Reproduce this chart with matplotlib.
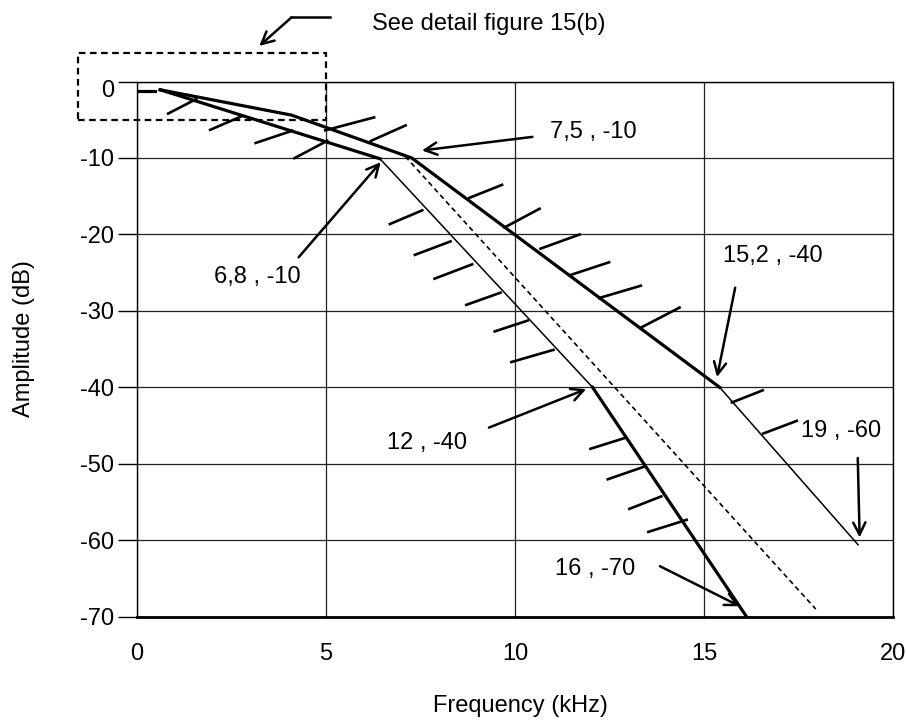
import matplotlib
matplotlib.use("Agg")
import matplotlib.pyplot as plt
import matplotlib.transforms as mtransforms
from matplotlib.patches import Rectangle
from matplotlib.lines import Line2D

plt.rcParams['font.family'] = ['Liberation Sans', 'DejaVu Sans']

# ---------------- data ----------------
x_ticks = [0, 5, 10, 15, 20]
y_ticks = [0, -10, -20, -30, -40, -50, -60, -70]

# upper mask boundary
upper_thick_x = [0.62, 4.09, 7.27, 15.41]
upper_thick_y = [-1.08, -4.39, -10.0, -40.0]
upper_thin_x = [15.41, 19.07]
upper_thin_y = [-40.0, -60.6]

# lower mask boundary
lower_thick1_x = [0.62, 6.43]
lower_thick1_y = [-1.08, -10.1]
lower_thin_x = [6.43, 12.05]
lower_thin_y = [-10.1, -40.0]
lower_thick2_x = [12.05, 16.12]
lower_thick2_y = [-40.0, -70.0]

# nominal (dashed) response
dashed_x = [7.1, 17.95]
dashed_y = [-9.8, -69.0]

# reference stub near 0 dB
stub_x = [0.0, 0.49]
stub_y = [-1.2, -1.2]

# hatch marks on the lower boundary (segment start/end)
lh_x0 = [0.80, 1.91, 3.11, 4.14, 6.66, 7.32, 7.84, 8.68, 9.43, 9.87, 11.96, 12.42, 12.99, 13.49]
lh_y0 = [-4.27, -6.39, -8.09, -10.1, -18.71, -22.73, -25.85, -29.27, -32.74, -36.74, -48.09, -52.08, -55.96, -58.96]
lh_x1 = [1.60, 2.80, 4.14, 5.07, 7.58, 8.33, 8.90, 9.65, 10.37, 11.05, 12.92, 13.47, 13.90, 14.57]
lh_y1 = [-2.23, -4.48, -6.39, -7.67, -16.78, -20.85, -23.85, -27.56, -31.21, -35.05, -46.60, -50.28, -54.20, -57.28]

# hatch marks on the upper boundary
uh_x0 = [4.95, 6.16, 8.76, 9.69, 10.64, 11.42, 12.19, 13.28, 15.70, 16.53]
uh_y0 = [-6.43, -7.83, -15.28, -19.17, -21.92, -25.38, -28.37, -32.31, -42.04, -46.10]
uh_x1 = [6.31, 7.14, 9.69, 10.68, 11.74, 12.52, 13.36, 14.38, 16.58, 17.48]
uh_y1 = [-4.65, -5.67, -13.45, -16.56, -19.95, -23.59, -26.66, -29.49, -40.33, -44.33]

# point annotations
ann_labels = ["7,5 , -10", "6,8 , -10", "15,2 , -40", "12 , -40", "19 , -60", "16 , -70"]
ann_text_xy = [(10.92, -6.56), (2.04, -25.6), (15.49, -22.86), (6.61, -47.25), (17.56, -45.66), (11.06, -63.82)]
ann_tail_xy = [(10.46, -7.24), (4.28, -22.99), (15.82, -26.96), (9.31, -45.27), (19.06, -49.24), (13.83, -63.39)]
ann_head_xy = [(7.54, -9.02), (6.45, -10.55), (15.34, -38.66), (11.88, -40.23), (19.11, -59.64), (15.94, -68.63)]

detail_label = "See detail figure 15(b)"
detail_box = (-1.54, -5.03, 6.54, 8.79)  # x, y, width, height
detail_arrow_x = [5.11, 4.09]
detail_arrow_y = [8.38, 8.38]
detail_head = (3.24, 4.65)

# ---------------- figure ----------------
FS = 17
fig = plt.figure(figsize=(9.06, 7.24), dpi=100)
ax = fig.add_axes([0.1509, 0.1482, 0.8351, 0.7392])
ax.set_xlim(0, 20)
ax.set_ylim(-70, 0)
ax.set_xticks(x_ticks)
ax.set_yticks(y_ticks)
ax.set_xticklabels([str(v) for v in x_ticks], fontsize=FS)
ax.set_yticklabels([str(v) for v in y_ticks], fontsize=FS)
ax.tick_params(axis='x', length=0, pad=19)
ax.tick_params(axis='y', length=14, width=1.0, pad=2, direction='out')
ax.grid(True, color='#222222', lw=0.9)
ax.set_axisbelow(True)
for s in ['left', 'right', 'top']:
    ax.spines[s].set_linewidth(1.0)
ax.spines['bottom'].set_linewidth(2.0)

# the "0" label sits a little below its tick in the reference
zero_lab = ax.get_yticklabels()[0]
zero_lab.set_transform(zero_lab.get_transform() +
                       mtransforms.ScaledTranslation(0, -7 / 100, fig.dpi_scale_trans))

thick = 2.3
thin = 1.1
ax.plot(upper_thick_x, upper_thick_y, color='black', lw=thick, solid_joinstyle='miter', zorder=3)
ax.plot(upper_thin_x, upper_thin_y, color='black', lw=thin, zorder=3)
ax.plot(lower_thick1_x, lower_thick1_y, color='black', lw=thick, zorder=3)
ax.plot(lower_thin_x, lower_thin_y, color='black', lw=thin, zorder=3)
ax.plot(lower_thick2_x, lower_thick2_y, color='black', lw=thick, zorder=3)
ax.plot(dashed_x, dashed_y, color='black', lw=1.2, dashes=(3, 2.2), zorder=3)
ax.plot(stub_x, stub_y, color='black', lw=thick, zorder=3)

for x0, y0, x1, y1 in zip(lh_x0, lh_y0, lh_x1, lh_y1):
    ax.plot([x0, x1], [y0, y1], color='black', lw=1.9, zorder=3, solid_capstyle='butt')
for x0, y0, x1, y1 in zip(uh_x0, uh_y0, uh_x1, uh_y1):
    ax.plot([x0, x1], [y0, y1], color='black', lw=1.9, zorder=3, solid_capstyle='butt')

for lab, txy, tail, head in zip(ann_labels, ann_text_xy, ann_tail_xy, ann_head_xy):
    ax.text(txy[0], txy[1], lab, fontsize=FS, ha='left', va='center', zorder=5)
    ax.annotate('', xy=head, xytext=tail,
                arrowprops=dict(arrowstyle='->', lw=1.8, color='black',
                                mutation_scale=22, shrinkA=0, shrinkB=0),
                zorder=5)

# detail box and its pointer (outside the axes)
bx, by, bw, bh = detail_box
ax.add_patch(Rectangle((bx, by), bw, bh, fill=False, ec='black', lw=1.6,
                       ls=(0, (3, 2)), clip_on=False, zorder=4))
ax.add_line(Line2D(detail_arrow_x, detail_arrow_y, color='black', lw=1.8, clip_on=False))
ax.annotate('', xy=detail_head, xytext=(detail_arrow_x[1], detail_arrow_y[1]),
            arrowprops=dict(arrowstyle='->', lw=1.8, color='black',
                            mutation_scale=22, shrinkA=0, shrinkB=0),
            annotation_clip=False)
fig.text(372 / 906, 1 - 24 / 724, detail_label, fontsize=FS, ha='left', va='center')

fig.text(520 / 906, 1 - 706 / 724, "Frequency (kHz)", fontsize=FS, ha='center', va='center')
fig.text(24 / 906, 1 - 339 / 724, "Amplitude (dB)", fontsize=FS, ha='center', va='center',
         rotation=90)

fig.savefig("out.png", dpi=100)
